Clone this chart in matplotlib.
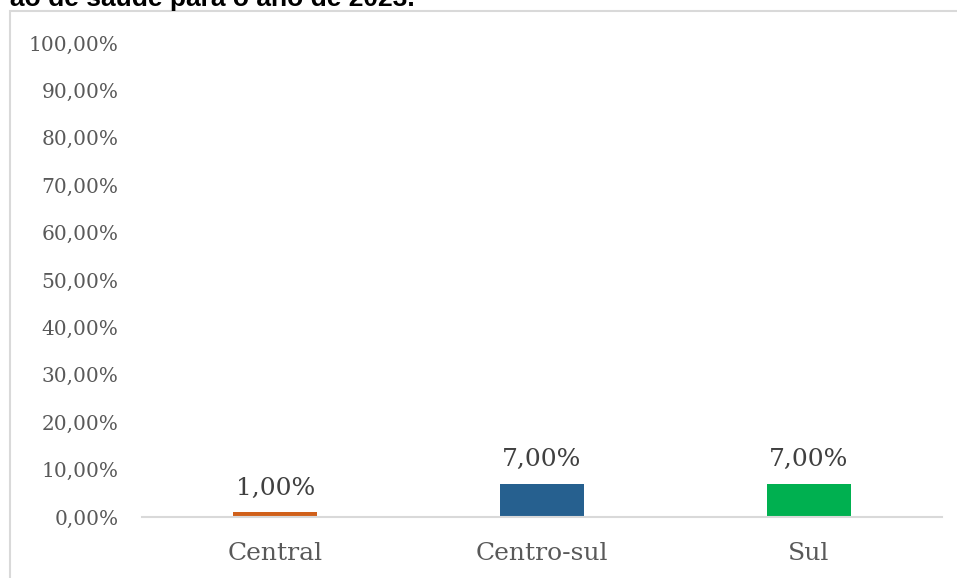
import matplotlib
matplotlib.use('Agg')
import matplotlib.pyplot as plt
from matplotlib.patches import Rectangle
from matplotlib.ticker import FuncFormatter

# data
regioes = ['Central', 'Centro-sul', 'Sul']
valores = [1.0, 7.0, 7.0]
cores = ['#D0601A', '#26608F', '#00B050']
titulo = 'ão de saúde para o ano de 2023.'

plt.rcParams['font.family'] = ['DejaVu Serif']

fig = plt.figure(figsize=(9.57, 5.78), dpi=100)

# chart area border (clipped at right and bottom like the original)
fig.patches.append(Rectangle((10 / 957, -0.1), 1.2, (578 - 11) / 578 + 0.1,
                             transform=fig.transFigure, fill=False,
                             edgecolor='#D9D9D9', linewidth=1.5))

# clipped title on top
fig.text(415 / 957, 1 - 6 / 578, titulo, ha='right', va='baseline',
         fontsize=19, fontweight='bold', family='Liberation Sans', color='black')

ax = fig.add_axes([142 / 957, 61 / 578, 800 / 957, 474 / 578])
x = range(len(regioes))
bars = ax.bar(x, valores, width=0.315, color=cores)

for b, v in zip(bars, valores):
    ax.text(b.get_x() + b.get_width() / 2, v + 3.7, f'{v:.2f}%'.replace('.', ','),
            ha='center', va='baseline', fontsize=18, color='#404040')

ax.set_ylim(0, 100)
ax.set_xlim(-0.5, 2.5)
ax.set_yticks(range(0, 101, 10))
ax.yaxis.set_major_formatter(FuncFormatter(lambda v, p: f'{v:.2f}%'.replace('.', ',')))
ax.set_xticks(list(x))
ax.set_xticklabels(regioes)
ax.tick_params(axis='y', length=0, pad=17, labelsize=14.5, labelcolor='#595959')
ax.tick_params(axis='x', length=0, pad=18, labelsize=18, labelcolor='#595959')

for s in ['top', 'right', 'left']:
    ax.spines[s].set_visible(False)
ax.spines['bottom'].set_color('#D9D9D9')
ax.spines['bottom'].set_linewidth(1.5)

fig.savefig('out.png', dpi=100)
